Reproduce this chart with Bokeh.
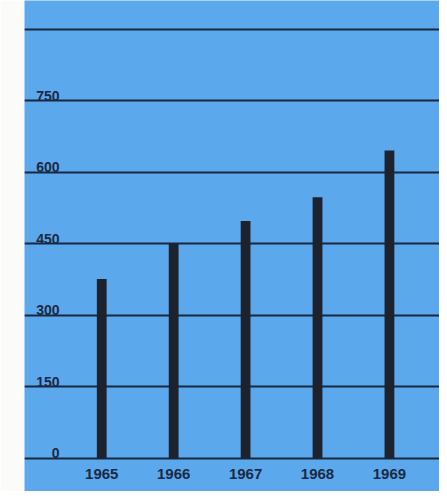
from bokeh.plotting import figure
from bokeh.models import ColumnDataSource, FixedTicker, Range1d
from bokeh.core.properties import value
from bokeh.embed import file_html
from bokeh.resources import INLINE

years = [1965, 1966, 1967, 1968, 1969]
year_labels = ["1965", "1966", "1967", "1968", "1969"]
values = [376, 450, 498, 548, 646]
y_ticks = [0, 150, 300, 450, 600, 750]
y_tick_labels = ["0", "150", "300", "450", "600", "750"]
grid_lines = [0, 150, 300, 450, 600, 750, 900]

BLUE = "#5ca8ec"
DARK = "#172840"

p = figure(width=439, height=491, output_backend="svg", toolbar_location=None,
           x_range=Range1d(1963.926, 1969.696), y_range=Range1d(-70, 961),
           min_border_left=24, min_border_right=0, min_border_top=0, min_border_bottom=0)
p.background_fill_color = BLUE
p.border_fill_color = "#fbfbf9"
p.outline_line_color = None
p.xaxis.visible = False
p.yaxis.visible = False
p.xgrid.visible = False
p.ygrid.ticker = FixedTicker(ticks=grid_lines)
p.ygrid.grid_line_color = DARK
p.ygrid.grid_line_width = 2

src = ColumnDataSource(dict(x=years, top=values, lab=year_labels))
p.vbar(x="x", top="top", bottom=0, width=0.136, source=src, fill_color="#1c222e", line_color=None)

p.text(x="x", y=0, text="lab", source=src, text_align="center", text_baseline="middle",
       y_offset=16, text_font=value("Liberation Sans"), text_font_size="15px",
       text_font_style="bold", text_color="#1a2a44")

ysrc = ColumnDataSource(dict(y=y_ticks, lab=y_tick_labels))
p.text(x=1963.926, y="y", text="lab", source=ysrc, text_align="right", text_baseline="alphabetic",
       x_offset=35, y_offset=-5, text_font=value("Liberation Sans"), text_font_size="14px",
       text_font_style="bold", text_color="#1a2a44")

open("out.html", "w").write(file_html(p, INLINE))
